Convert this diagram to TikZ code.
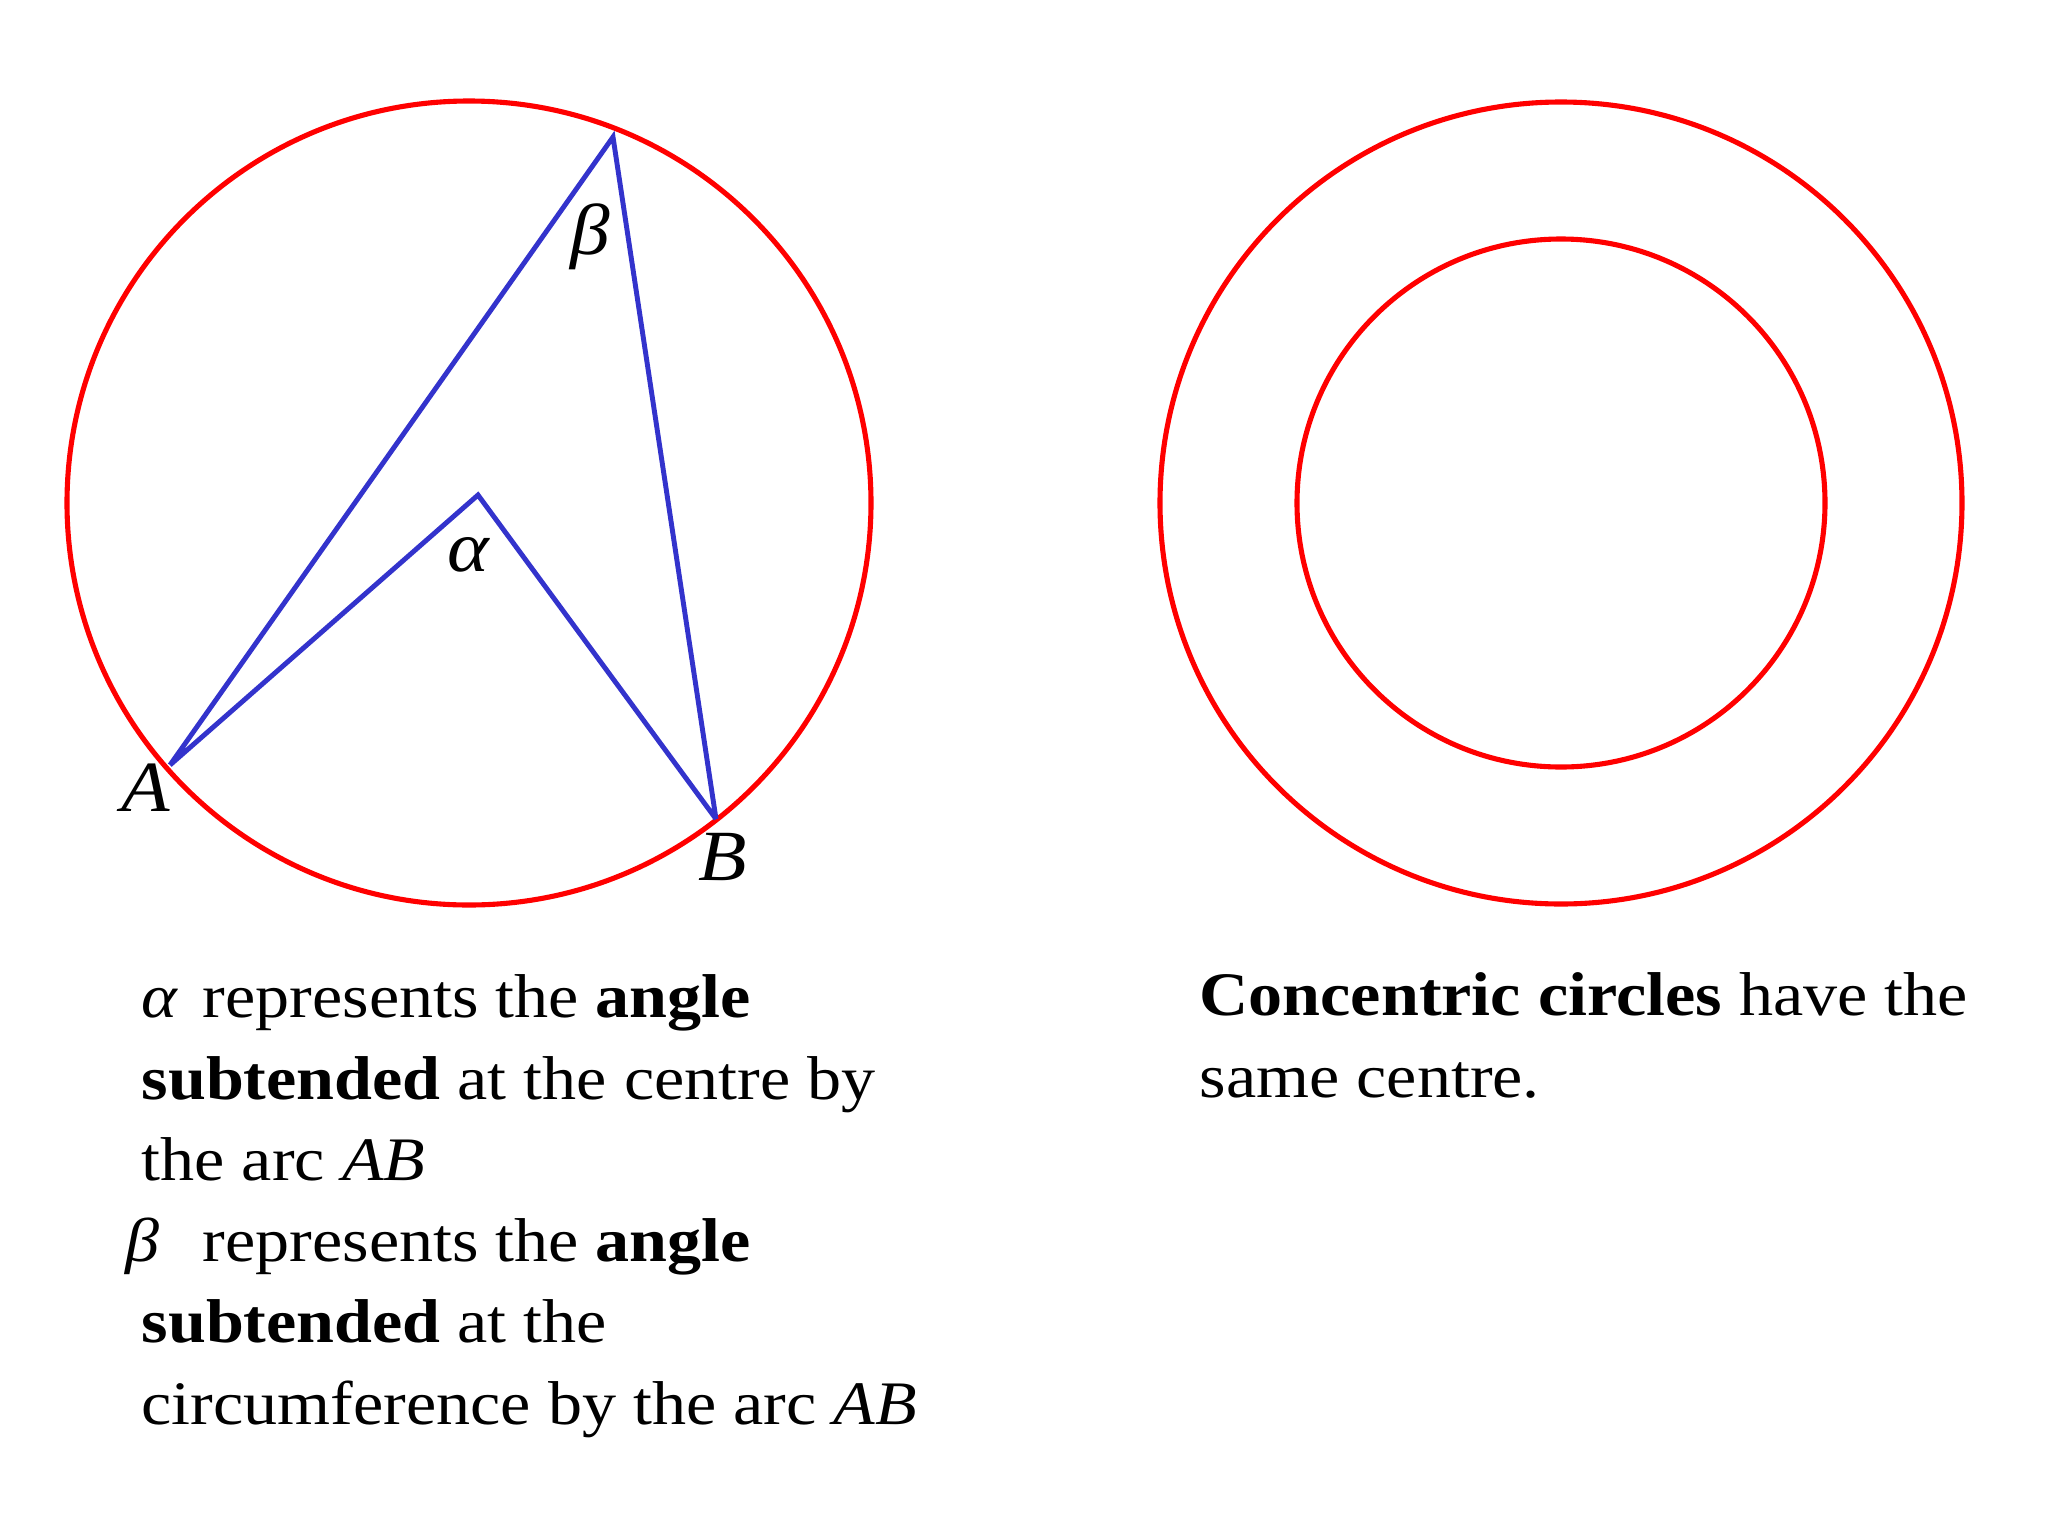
\documentclass[tikz,border=0pt]{standalone}
\usepackage{fontspec}
\setmainfont{Liberation Serif}[FakeStretch=1.1]
\definecolor{circred}{RGB}{255,0,0}
\definecolor{chordblue}{RGB}{51,51,204}
\tikzset{
  circ/.style={draw=circred, line width=1.45pt},
  chord/.style={draw=chordblue, line width=1.4pt, line join=miter},
  ptlabel/.style={font=\fontsize{20.5}{24}\selectfont\itshape, inner sep=0pt},
  body/.style={font=\fontsize{17.6}{23.1}\selectfont, align=left, inner sep=0pt, anchor=base west}
}
\begin{document}
\begin{tikzpicture}[x=0.01cm,y=-0.01cm]
\useasboundingbox (0,0) rectangle (2048,1536);

% left circle, angles on arc AB
\coordinate (O) at (469,503);
\draw[circ] (O) circle (402);
\coordinate (A) at (170,765);
\coordinate (B) at (716,819);
\coordinate (C) at (613,137);
\coordinate (M) at (478,495);
\draw[chord]
(A) -- (C) -- (B)
(A) -- (M) -- (B);
\node[ptlabel] (a) at (146,788) {A};
\node[ptlabel] (b) at (723,857) {B};
\node[ptlabel] (al) at (468,555) {α};
\node[ptlabel] (be) at (590,237) {β};

% right circles
\coordinate (P) at (1561,503);
\draw[circ] (P) circle (401);
\draw[circ] (P) circle (264);

% texts (base = last line)
\node[body] (lefttext) at (141,1424)
{\makebox[0.61cm][l]{\itshape α}represents the \textbf{angle}\\
\textbf{subtended} at the centre by\\
the arc \textit{AB}\\
\hspace*{-0.16cm}\makebox[0.77cm][l]{\itshape β}represents the \textbf{angle}\\
\textbf{subtended} at the\\
circumference by the arc \textit{AB}};
\node[body] (righttext) at (1199,1097)
{\textbf{Concentric circles} have the\\
same centre.};
\end{tikzpicture}
\end{document}
